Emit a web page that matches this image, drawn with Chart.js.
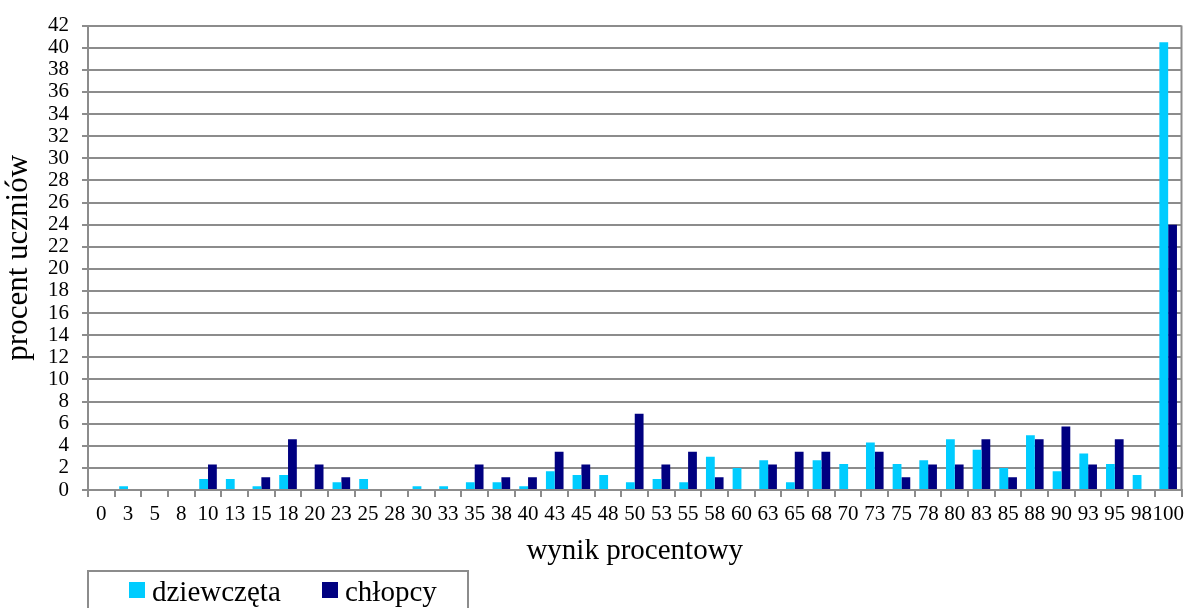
<!DOCTYPE html>
<html>
<head>
<meta charset="utf-8">
<script src="https://cdn.jsdelivr.net/npm/chart.js@4"></script>
<style>
  body { margin: 0; background: #fff; }
  #wrap { width: 1189px; height: 608px; }
</style>
</head>
<body>
<div id="wrap"><canvas id="myChart" width="1189" height="608"></canvas></div>
<script>
// Dane
var categories = ['0','3','5','8','10','13','15','18','20','23','25','28','30','33','35','38','40','43','45','48',
                  '50','53','55','58','60','63','65','68','70','73','75','78','80','83','85','88','90','93','95','98','100'];
var girls = [0, 0.35, 0, 0, 1.0, 1.0, 0.35, 1.35, 0, 0.7, 1.0, 0, 0.35, 0.35, 0.7, 0.7, 0.35, 1.7, 1.35, 1.35,
             0.7, 1.0, 0.7, 3.0, 2.0, 2.7, 0.7, 2.7, 2.35, 4.3, 2.35, 2.7, 4.6, 3.65, 2.0, 4.95, 1.7, 3.3, 2.35, 1.35, 40.5];
var boys = [0, 0, 0, 0, 2.3, 0, 1.15, 4.6, 2.3, 1.15, 0, 0, 0, 0, 2.3, 1.15, 1.15, 3.45, 2.3, 0,
            6.9, 2.3, 3.45, 1.15, 0, 2.3, 3.45, 3.45, 0, 3.45, 1.15, 2.3, 2.3, 4.6, 1.15, 4.6, 5.75, 2.3, 4.6, 0, 24];
var seriesNames = ['dziewczęta', 'chłopcy'];
var seriesColors = ['#00ccff', '#000080'];

var serif = '"Liberation Serif", "Times New Roman", serif';
var gridColor = '#8c8c8c';

// prawa krawedz wykresu i legenda w ramce
var extras = {
    id: 'extras',
    afterDraw: function (chart) {
        var c = chart.ctx;
        var a = chart.chartArea;
        c.save();
        c.strokeStyle = gridColor;
        c.lineWidth = 2;
        c.beginPath();
        c.moveTo(a.right, a.top);
        c.lineTo(a.right, a.bottom);
        c.stroke();

        // ramka legendy
        c.strokeRect(88, 571, 380, 50);
        var xs = [129, 322];
        c.font = '29px ' + serif;
        c.textBaseline = 'alphabetic';
        chart.data.datasets.forEach(function (ds, i) {
            c.fillStyle = ds.backgroundColor;
            c.fillRect(xs[i], 582, 16, 16);
            c.fillStyle = '#000';
            c.fillText(ds.label, xs[i] + 23, 601);
        });
        c.restore();
    }
};

var ctx = document.getElementById('myChart').getContext('2d');
var myChart = new Chart(ctx, {
    type: 'bar',
    data: {
        labels: categories,
        datasets: [
            { label: seriesNames[0], data: girls, backgroundColor: seriesColors[0] },
            { label: seriesNames[1], data: boys, backgroundColor: seriesColors[1] }
        ]
    },
    options: {
        responsive: false,
        animation: false,
        datasets: { bar: { barPercentage: 1.0, categoryPercentage: 0.66 } },
        layout: { padding: { top: 20, right: 7, left: 0, bottom: 38 } },
        plugins: {
            legend: { display: false },
            tooltip: { enabled: false }
        },
        scales: {
            x: {
                grid: { drawOnChartArea: false, drawTicks: true, tickLength: 7, color: gridColor, lineWidth: 2 },
                border: { color: gridColor, width: 2 },
                ticks: { color: '#000', font: { family: serif, size: 21 }, padding: 5, maxRotation: 0, autoSkip: false },
                title: { display: true, text: 'wynik procentowy', color: '#000', font: { family: serif, size: 29 }, padding: { top: 0, bottom: 1 } },
                afterFit: function (scale) { scale.height = 80; }
            },
            y: {
                min: 0,
                max: 42,
                ticks: { stepSize: 2, autoSkip: false, color: '#000', font: { family: serif, size: 21 }, padding: 13 },
                grid: { color: gridColor, lineWidth: 2, tickLength: 6 },
                border: { color: gridColor, width: 2 },
                title: { display: true, text: 'procent uczniów', color: '#000', font: { family: serif, size: 31 }, padding: { top: 0, bottom: 0 } },
                afterFit: function (scale) { scale.width = 88; }
            }
        }
    },
    plugins: [extras]
});
</script>
</body>
</html>
